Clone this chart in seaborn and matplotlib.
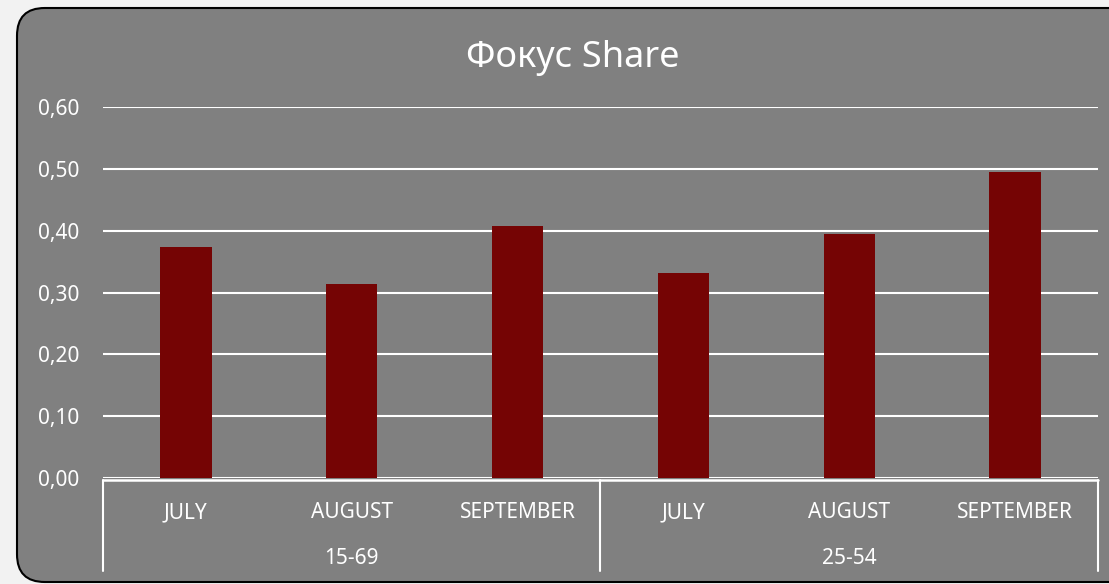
import pandas as pd
import matplotlib.pyplot as plt
import seaborn as sns
from matplotlib.patches import FancyBboxPatch

# Dados
grupos = ['15-69', '15-69', '15-69', '25-54', '25-54', '25-54']
meses = ['JULY', 'AUGUST', 'SEPTEMBER', 'JULY', 'AUGUST', 'SEPTEMBER']
share = [0.374, 0.314, 0.408, 0.332, 0.395, 0.495]

df = pd.DataFrame({'grupo': grupos, 'mes': meses, 'share': share})
df['chave'] = df['grupo'] + ' ' + df['mes']

sns.set_theme(style="white")
plt.rcParams['font.family'] = ['Noto Sans', 'DejaVu Sans']

fundo = '#808080'
barra = '#750404'

fig = plt.figure(figsize=(11.09, 5.84), dpi=100)
fig.patch.set_facecolor('#f2f2f2')

# moldura arredondada
caixa = FancyBboxPatch((17 / 1109, 2 / 584), 1.2, 574 / 584,
                       boxstyle="round,pad=0,rounding_size=0.025",
                       transform=fig.transFigure, facecolor=fundo,
                       edgecolor='black', linewidth=1.5, mutation_aspect=1.9,
                       zorder=-5)
fig.patches.append(caixa)

ax = fig.add_axes([103 / 1109, 1 - 478 / 584, 995 / 1109, 371 / 584])
ax.set_facecolor(fundo)
ax.patch.set_alpha(0)

sns.barplot(data=df, x='chave', y='share', order=list(df['chave']),
            color=barra, saturation=1, width=0.31, linewidth=0, ax=ax, zorder=3)

ax.set_ylim(0, 0.6)
ax.set_xlim(-0.5, 5.5)
ax.set_yticks([0, 0.1, 0.2, 0.3, 0.4, 0.5, 0.6])
ax.set_yticklabels([f'{v:.2f}'.replace('.', ',') for v in ax.get_yticks()],
                   color='white', fontsize=15)
ax.tick_params(axis='y', length=0, pad=17)
ax.grid(axis='y', color='white', linewidth=1.5, zorder=0)
ax.set_axisbelow(True)
for s in ax.spines.values():
    s.set_visible(False)

ax.set_xticks([])
ax.set_xlabel('')
ax.set_ylabel('')

# eixo x em dois níveis
trans = ax.get_xaxis_transform()
ax.plot([-0.5, 5.5], [-0.005, -0.005], color='white', lw=1.8, transform=trans, clip_on=False)
for xv in [-0.5, 2.5, 5.5]:
    ax.plot([xv, xv], [-0.005, -0.25], color='white', lw=1.5, transform=trans, clip_on=False)

for i, m in enumerate(meses):
    ax.text(i, -0.093, m, color='white', fontsize=15, ha='center', va='center', transform=trans)
for i, g in enumerate(['15-69', '25-54']):
    ax.text(1 + 3 * i, -0.218, g, color='white', fontsize=15, ha='center', va='center', transform=trans)

fig.text(573 / 1109, 1 - 58 / 584, 'Фокус Share', color='white', fontsize=26,
         ha='center', va='center')

fig.savefig('out.png', dpi=100, facecolor=fig.get_facecolor())
